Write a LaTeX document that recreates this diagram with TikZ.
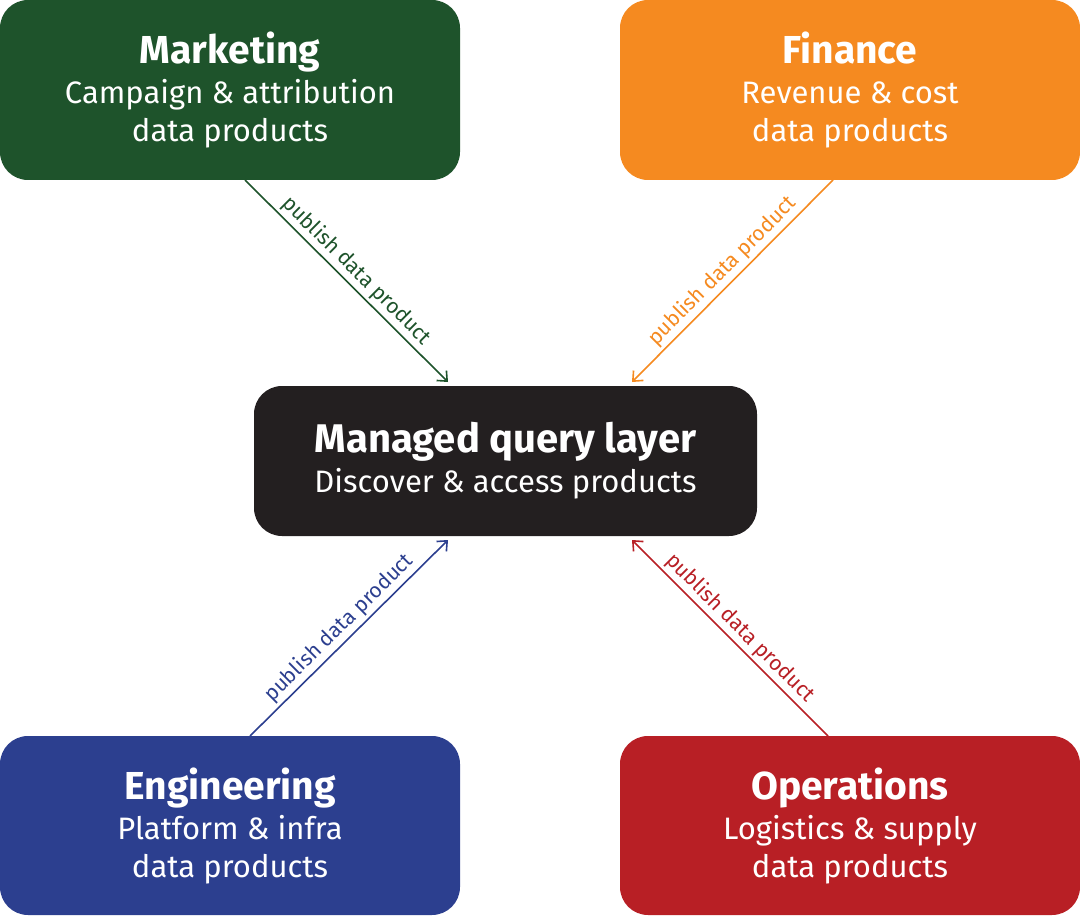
\documentclass[tikz,border=0pt]{standalone}
\usepackage{fontspec}
\usetikzlibrary{arrows.meta}
\setmainfont{Fira Sans}
\definecolor{mk}{HTML}{1E532B}
\definecolor{fi}{HTML}{F58A20}
\definecolor{ce}{HTML}{231F20}
\definecolor{en}{HTML}{2C3F8F}
\definecolor{op}{HTML}{B81F25}
\newcommand{\ttl}[1]{{\fontsize{39}{38}\selectfont\bfseries #1}}
\begin{document}
\begin{tikzpicture}[x=1pt,y=-1pt,
 box/.style={rounded corners=28pt,minimum width=460pt,minimum height=180pt,text=white,align=center,inner sep=0pt,font=\fontsize{31}{38}\selectfont},
 arr/.style={-{Straight Barb[length=8pt,width=14pt]},line width=1.6pt},
 lab/.style={font=\fontsize{21}{22}\selectfont,sloped,above,inner sep=3pt}]
\useasboundingbox (0,0) rectangle (1080,923);
\node[box,fill=mk] (m) at (230,90) {\ttl{Marketing}\\[2pt]Campaign \& attribution\\data products};
\node[box,fill=fi] (f) at (850,90) {\ttl{Finance}\\[2pt]Revenue \& cost\\data products};
\node[box,fill=ce,minimum width=503pt,minimum height=150pt] (c) at (505.5,461) {{\fontsize{40}{38}\selectfont\bfseries Managed query layer}\\[2pt]Discover \& access products};
\node[box,fill=en,minimum height=179pt] (e) at (230,825.5) {\ttl{Engineering}\\[2pt]Platform \& infra\\data products};
\node[box,fill=op,minimum height=179pt] (o) at (850,825.5) {\ttl{Operations}\\[2pt]Logistics \& supply\\data products};
\coordinate (m1) at (245,180); \coordinate (m2) at (448,382);
\coordinate (f1) at (833,180); \coordinate (f2) at (632,382);
\coordinate (e1) at (250,736); \coordinate (e2) at (448,540);
\coordinate (o1) at (828,736); \coordinate (o2) at (632,540);
\draw[arr,mk] (m1) -- node[lab,text=mk]{publish data product} (m2);
\draw[arr,fi] (f1) -- node[lab,text=fi]{publish data product} (f2);
\draw[arr,en] (e1) -- node[lab,text=en]{publish data product} (e2);
\draw[arr,op] (o1) -- node[lab,text=op]{publish data product} (o2);
\end{tikzpicture}
\end{document}
